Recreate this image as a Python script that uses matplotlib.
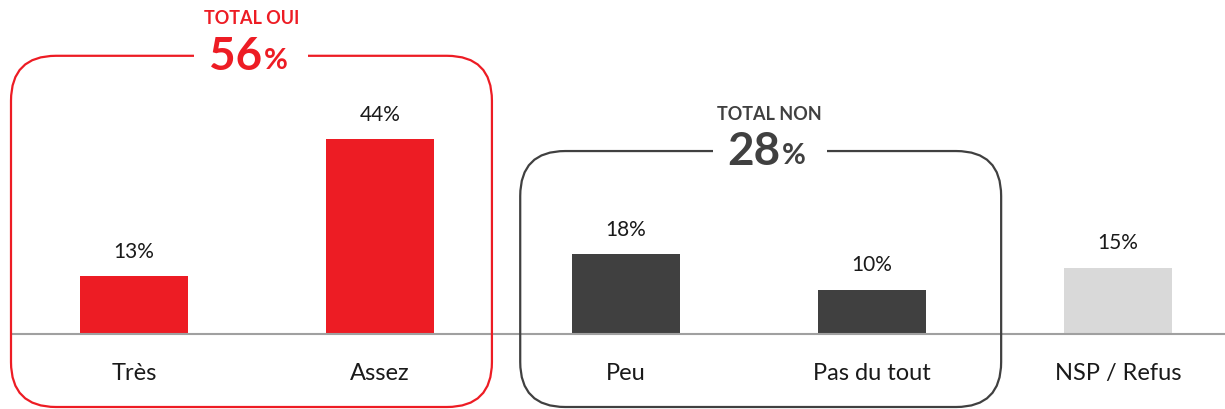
import numpy as np
import matplotlib.pyplot as plt
from matplotlib.patches import FancyBboxPatch, Rectangle

plt.rcParams['font.family'] = ['Lato', 'DejaVu Sans']

# donnees
categories = ['Très', 'Assez', 'Peu', 'Pas du tout', 'NSP / Refus']
valeurs = [13, 44, 18, 10, 15]
couleurs = ['#ED1C24', '#ED1C24', '#404040', '#404040', '#D9D9D9']

# groupes (titre, total, couleur, indices des barres)
groupes = [('TOTAL OUI', 56, '#ED1C24', (0, 1)),
           ('TOTAL NON', 28, '#404040', (2, 3))]

W, H = 1225, 410
fig = plt.figure(figsize=(W / 100, H / 100), dpi=100)
ax = fig.add_axes([0, 0, 1, 1])
x = np.arange(len(categories))

# echelle: 246 px entre barres, 4.43 px par %
ax.set_xlim(-134 / 246, (W - 134) / 246)
ax.set_ylim(-75 / 4.43, (H - 75) / 4.43)
ax.axis('off')

ax.bar(x, valeurs, width=0.44, color=couleurs, zorder=2)
ax.hlines(0, -0.5, ax.get_xlim()[1], color='#A0A0A0', lw=1.5, zorder=3)

for xi, v in zip(x, valeurs):
    ax.text(xi, v + 3.5, f'{v}%', ha='center', va='bottom', fontsize=15, color='#1a1a1a')
for xi, c in zip(x, categories):
    ax.text(xi, -8.6, c, ha='center', va='center', fontsize=17, color='#1a1a1a')

# cadres arrondis en pixels
ov = fig.add_axes([0, 0, 1, 1])
ov.set_xlim(0, W)
ov.set_ylim(0, H)
ov.axis('off')
ov.patch.set_alpha(0)

# marges gauche/droite (en unites de barre), haut (en %), decalage du titre (px)
marges = {0: (-0.50, 0.455, 62.8, 0), 1: (-0.43, 0.525, 41.3, 9)}
for k, (titre, total, col, (i0, i1)) in enumerate(groupes):
    g, d, ytop, dx = marges[k]
    xl = ax.transData.transform((x[i0] + g, 0))[0]
    xr = ax.transData.transform((x[i1] + d, 0))[0]
    yt = ax.transData.transform((0, ytop))[1]
    yb = 2
    r = 45
    box = FancyBboxPatch((xl + r, yb + r), xr - xl - 2 * r, yt - yb - 2 * r,
                         boxstyle=f'round,pad={r}', fc='none', ec=col, lw=1.6)
    ov.add_patch(box)
    xc = (xl + xr) / 2 + dx
    ov.add_patch(Rectangle((xc - 57, yt - 5), 114, 10, fc='white', ec='none', zorder=3))
    ov.text(xc + 11, yt, f'{total}', ha='right', va='center', fontsize=33,
            fontweight='bold', color=col, zorder=4)
    ov.text(xc + 12, yt - 4, '%', ha='left', va='center', fontsize=21,
            fontweight='bold', color=col, zorder=4)
    ov.text(xc, yt + 38, titre, ha='center', va='center', fontsize=13,
            fontweight='bold', color=col, zorder=4)

fig.savefig('out.png', dpi=100)
